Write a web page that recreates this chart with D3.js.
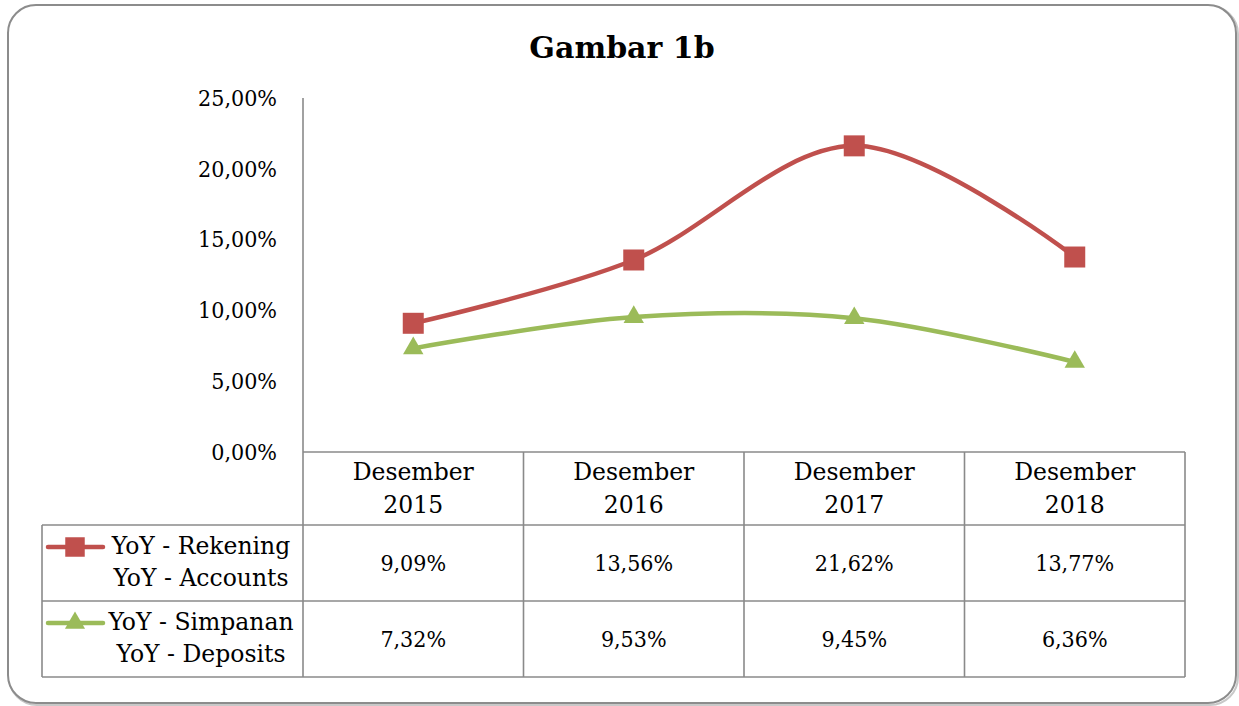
<!DOCTYPE html>
<html>
<head>
<meta charset="utf-8">
<script src="https://cdn.jsdelivr.net/npm/d3@7"></script>
<style>
  html, body { margin: 0; padding: 0; background: #ffffff; }
  svg text { font-family: "DejaVu Serif", "Liberation Serif", serif; fill: #000; }
  svg text.num { font-family: "DejaVu Serif Condensed", "DejaVu Serif", serif; font-stretch: condensed; }
</style>
</head>
<body>
<div id="chart-area"></div>
<script>
var categories = ["Desember 2015", "Desember 2016", "Desember 2017", "Desember 2018"];
var rekening = [9.09, 13.56, 21.62, 13.77];
var simpanan = [7.32, 9.53, 9.45, 6.36];
var yTicks = [0, 5, 10, 15, 20, 25];
var seriesNames = [
  ["YoY - Rekening", "YoY - Accounts"],
  ["YoY - Simpanan", "YoY - Deposits"]
];

var W = 1239, H = 706;
var colors = ["#c0504d", "#9bbb59"];
var gridColor = "#8a8a8a";

var idLocale = d3.formatLocale({ decimal: ",", thousands: ".", grouping: [3], currency: ["Rp", ""] });
var pct = function (d) { return idLocale.format(".2f")(d) + "%"; };

var svg = d3.select("#chart-area").append("svg")
  .attr("width", W).attr("height", H)
  .attr("xmlns", "http://www.w3.org/2000/svg");

// outer frame
svg.append("rect")
  .attr("x", 9).attr("y", 6).attr("width", 1229).attr("height", 699)
  .attr("rx", 28)
  .attr("fill", "none").attr("stroke", "#c8c8c8").attr("stroke-width", 2);
svg.append("rect")
  .attr("x", 8).attr("y", 5).attr("width", 1228).attr("height", 698)
  .attr("rx", 28)
  .attr("fill", "#fff").attr("stroke", "#8c8c8c").attr("stroke-width", 2);

svg.append("text")
  .attr("x", 622).attr("y", 58)
  .attr("text-anchor", "middle")
  .attr("font-size", "30px").attr("font-weight", "bold")
  .text("Gambar 1b");

var plotLeft = 303, plotRight = 1185, plotTop = 98, plotBottom = 452;
var rowTops = [452, 525, 601, 677];
var legendLeft = 42;

var x = d3.scaleBand().domain(categories).range([plotLeft, plotRight]).padding(0);
var y = d3.scaleLinear().domain([0, 25]).range([plotBottom, plotTop]);
var cx = function (c) { return x(c) + x.bandwidth() / 2; };

// y axis
var yAxis = d3.axisLeft(y).tickValues(yTicks).tickSize(0).tickPadding(26).tickFormat(pct);
var ga = svg.append("g").attr("transform", "translate(" + plotLeft + ",0)").call(yAxis);
ga.select(".domain").remove();
ga.selectAll("text")
  .attr("class", "num")
  .attr("font-family", null)
  .attr("font-size", "23px").attr("fill", "#000");
ga.attr("font-family", null);

// table lines
var tbl = svg.append("g").attr("stroke", gridColor).attr("stroke-width", 1.6).attr("fill", "none");
tbl.append("line").attr("x1", plotLeft).attr("x2", plotLeft).attr("y1", plotTop).attr("y2", rowTops[3]);
tbl.append("line").attr("x1", plotLeft).attr("x2", plotRight).attr("y1", rowTops[0]).attr("y2", rowTops[0]);
[rowTops[1], rowTops[2], rowTops[3]].forEach(function (yy) {
  tbl.append("line").attr("x1", legendLeft).attr("x2", plotRight).attr("y1", yy).attr("y2", yy);
});
tbl.append("line").attr("x1", legendLeft).attr("x2", legendLeft).attr("y1", rowTops[1]).attr("y2", rowTops[3]);
categories.forEach(function (c) {
  tbl.append("line").attr("x1", x(c) + x.bandwidth()).attr("x2", x(c) + x.bandwidth())
    .attr("y1", rowTops[0]).attr("y2", rowTops[3]);
});

// header labels
svg.selectAll(".cat")
  .data(categories)
  .enter().append("text")
  .attr("class", "cat")
  .attr("text-anchor", "middle")
  .attr("font-size", "23.5px")
  .attr("x", function (d) { return cx(d); })
  .attr("y", 480)
  .each(function (d) {
    var parts = d.split(" ");
    var t = d3.select(this);
    t.append("tspan").attr("x", cx(d)).attr("dy", 0).text(parts[0]);
    t.append("tspan").attr("x", cx(d)).attr("dy", 33).text(parts[1]);
  });

// data lines
var seriesData = [rekening, simpanan];
var line = d3.line()
  .x(function (d, i) { return cx(categories[i]); })
  .y(function (d) { return y(d); })
  .curve(d3.curveCardinal.tension(0));

seriesData.forEach(function (vals, s) {
  svg.append("path")
    .datum(vals)
    .attr("d", line)
    .attr("fill", "none")
    .attr("stroke", colors[s])
    .attr("stroke-width", 4.5)
    .attr("stroke-linecap", "round");
  var sym = d3.symbol().type(s === 0 ? d3.symbolSquare : d3.symbolTriangle).size(s === 0 ? 441 : 180);
  svg.selectAll(".m" + s)
    .data(vals)
    .enter().append("path")
    .attr("class", "m" + s)
    .attr("d", sym)
    .attr("fill", colors[s])
    .attr("transform", function (d, i) {
      return "translate(" + cx(categories[i]) + "," + y(d) + ")";
    });

  // table row
  var rowMid = (rowTops[s + 1] + rowTops[s + 2]) / 2;
  svg.selectAll(".v" + s)
    .data(vals)
    .enter().append("text")
    .attr("class", "num v" + s)
    .attr("text-anchor", "middle")
    .attr("font-size", "23px")
    .attr("x", function (d, i) { return cx(categories[i]); })
    .attr("y", rowMid + 8)
    .text(function (d) { return pct(d); });

  // legend key
  var ky = rowMid - 16;
  svg.append("line")
    .attr("x1", 48).attr("x2", 103).attr("y1", ky).attr("y2", ky)
    .attr("stroke", colors[s]).attr("stroke-width", 4.5).attr("stroke-linecap", "round");
  svg.append("path")
    .attr("d", d3.symbol().type(s === 0 ? d3.symbolSquare : d3.symbolTriangle).size(s === 0 ? 380 : 175))
    .attr("fill", colors[s])
    .attr("transform", "translate(75," + ky + ")");
  var lt = svg.append("text")
    .attr("text-anchor", "middle")
    .attr("font-size", "23.5px")
    .attr("y", ky + 7);
  lt.append("tspan").attr("x", 201).attr("dy", 0).text(seriesNames[s][0]);
  lt.append("tspan").attr("x", 201).attr("dy", 32).text(seriesNames[s][1]);
});
</script>
</body>
</html>
